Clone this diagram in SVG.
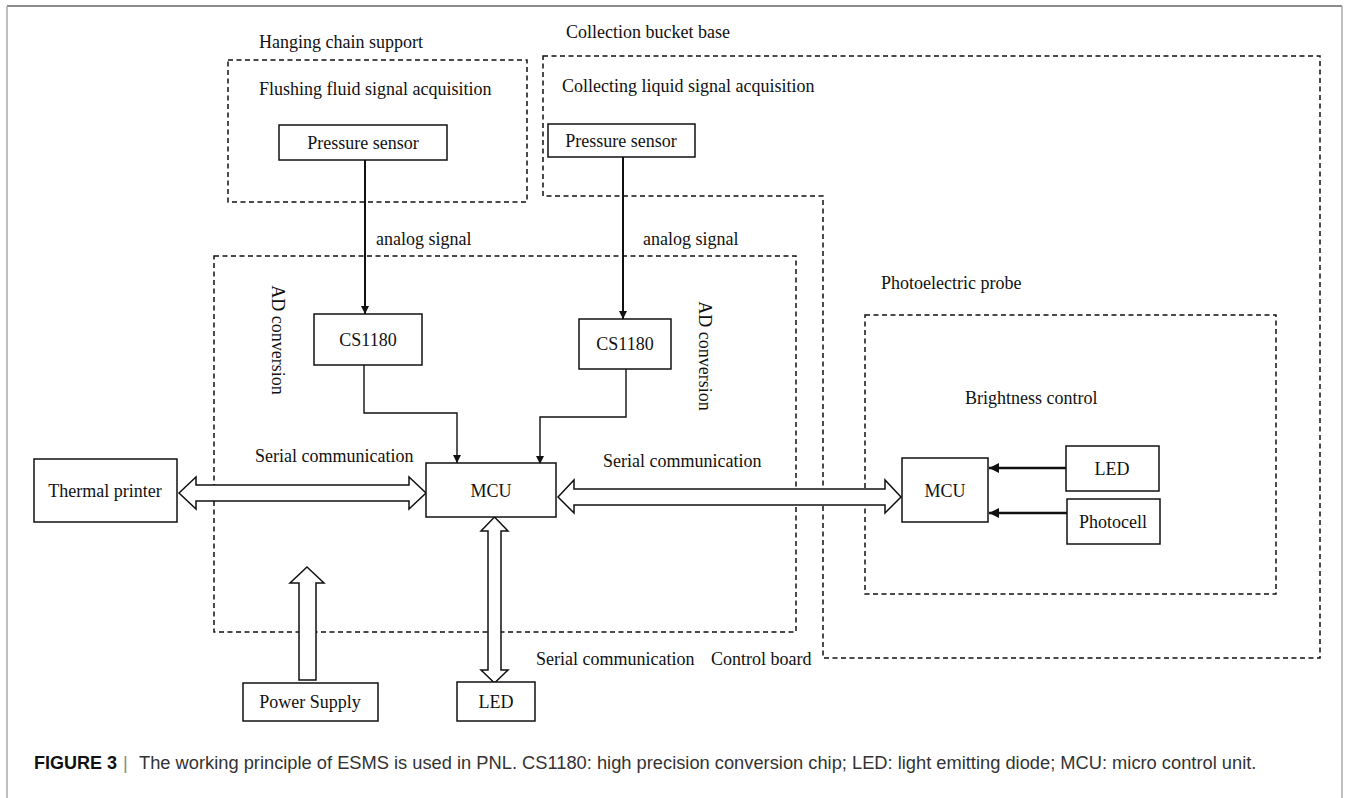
<svg xmlns="http://www.w3.org/2000/svg" width="1348" height="798" viewBox="0 0 1348 798">
<style>
.t{font-family:"Liberation Serif","Times New Roman",serif;font-size:18px;fill:#111}
.c{text-anchor:middle}
.box{fill:#fff;stroke:#111;stroke-width:1.5}
.dash{fill:none;stroke:#111;stroke-width:1.5;stroke-dasharray:5 3.5}
.ln{fill:none;stroke:#111;stroke-width:1.4}
.lnb{fill:none;stroke:#111;stroke-width:2}
.lnc{fill:none;stroke:#111;stroke-width:2.6}
.hol{fill:#fff;stroke:#111;stroke-width:1.5;stroke-linejoin:miter}
.cap{font-family:"Liberation Sans",Arial,sans-serif;font-size:18.3px;fill:#333}
</style>
<defs>
<marker id="ah" viewBox="0 0 10 10" refX="10" refY="5" markerWidth="8" markerHeight="8" markerUnits="userSpaceOnUse" orient="auto"><path d="M0,0 L10,5 L0,10 z" fill="#111"/></marker>
<marker id="ahb" viewBox="0 0 10 10" refX="10" refY="5" markerWidth="10" markerHeight="10" markerUnits="userSpaceOnUse" orient="auto"><path d="M0,0 L10,5 L0,10 z" fill="#111"/></marker>
</defs>
<rect width="1348" height="798" fill="#fff"/>
<g id="frame">
<line x1="7" y1="6" x2="1342" y2="6" stroke="#666" stroke-width="1.5"/>
<line x1="7" y1="6" x2="7" y2="798" stroke="#aaa" stroke-width="1.5"/>
<line x1="1342" y1="6" x2="1342" y2="798" stroke="#aaa" stroke-width="1.5"/>
</g>
<g id="regions">
<rect class="dash" x="228" y="60" width="299" height="142"/>
<path class="dash" d="M543,56 H1320 V658 H823 V196 H543 Z"/>
<rect class="dash" x="214" y="256" width="582" height="376"/>
<rect class="dash" x="865" y="315" width="411" height="279"/>
<text class="t" x="259" y="48">Hanging chain support</text>
<text class="t" x="259" y="95">Flushing fluid signal acquisition</text>
<text class="t" x="566" y="38">Collection bucket base</text>
<text class="t" x="562" y="92">Collecting liquid signal acquisition</text>
<text class="t" x="881" y="289">Photoelectric probe</text>
<text class="t" x="965" y="404">Brightness control</text>
<text class="t" transform="translate(272,340) rotate(90)" text-anchor="middle">AD conversion</text>
<text class="t" transform="translate(699,356) rotate(90)" text-anchor="middle">AD conversion</text>
<text class="t" x="376" y="245">analog signal</text>
<text class="t" x="643" y="245">analog signal</text>
<text class="t" x="255" y="462">Serial communication</text>
<text class="t" x="603" y="467">Serial communication</text>
<text class="t" x="536" y="665">Serial communication</text>
<text class="t" x="711" y="665">Control board</text>
</g>
<g id="connectors">
<line class="lnb" x1="365" y1="160" x2="365" y2="314" marker-end="url(#ah)"/>
<line class="lnb" x1="623" y1="157" x2="623" y2="319" marker-end="url(#ah)"/>
<polyline class="ln" points="364,365 364,413 457,413 457,463" marker-end="url(#ah)"/>
<polyline class="ln" points="626,369 626,417 540,417 540,464" marker-end="url(#ah)"/>
<polygon class="hol" points="179,493 196,477 196,485 409,485 409,477 426,493 409,509 409,501 196,501 196,509"/>
<polygon class="hol" points="558,497 574,480 574,489 885,489 885,480 901,497 885,513 885,505 574,505 574,513"/>
<polygon class="hol" points="494.5,517 508,531 501,531 501,670 508,670 494.5,683 481,670 488,670 488,531 481,531"/>
<polygon class="hol" points="307,567 324,583 316,583 316,680 299,680 299,583 290,583"/>
<line class="lnc" x1="1066" y1="468" x2="989" y2="468" marker-end="url(#ahb)"/>
<line class="lnc" x1="1067" y1="513" x2="989" y2="513" marker-end="url(#ahb)"/>
</g>
<g id="pressure1"><rect class="box" x="279" y="125" width="168" height="35"/><text class="t c" x="363" y="149">Pressure sensor</text></g>
<g id="pressure2"><rect class="box" x="548" y="124" width="147" height="33"/><text class="t c" x="621" y="147">Pressure sensor</text></g>
<g id="cs1180a"><rect class="box" x="314" y="314" width="108" height="51"/><text class="t c" x="368" y="346">CS1180</text></g>
<g id="cs1180b"><rect class="box" x="579" y="319" width="92" height="50"/><text class="t c" x="625" y="350">CS1180</text></g>
<g id="mcu"><rect class="box" x="426" y="463" width="130" height="54"/><text class="t c" x="491" y="497">MCU</text></g>
<g id="printer"><rect class="box" x="34" y="459" width="143" height="63"/><text class="t c" x="105" y="497">Thermal printer</text></g>
<g id="power"><rect class="box" x="243" y="683" width="135" height="38"/><text class="t c" x="310" y="708">Power Supply</text></g>
<g id="led-bottom"><rect class="box" x="457" y="682" width="78" height="39"/><text class="t c" x="496" y="708">LED</text></g>
<g id="mcu-probe"><rect class="box" x="902" y="458" width="86" height="64"/><text class="t c" x="945" y="497">MCU</text></g>
<g id="led-probe"><rect class="box" x="1066" y="446" width="93" height="45"/><text class="t c" x="1112" y="475">LED</text></g>
<g id="photocell"><rect class="box" x="1067" y="499" width="93" height="45"/><text class="t c" x="1113" y="528">Photocell</text></g>
<g id="caption">
<text class="cap" x="34" y="769" style="font-weight:bold;fill:#111;font-size:18px">FIGURE 3</text>
<text class="cap" x="123" y="769" style="fill:#888">|</text>
<text class="cap" x="139" y="769">The working principle of ESMS is used in PNL. CS1180: high precision conversion chip; LED: light emitting diode; MCU: micro control unit.</text>
</g>
</svg>
